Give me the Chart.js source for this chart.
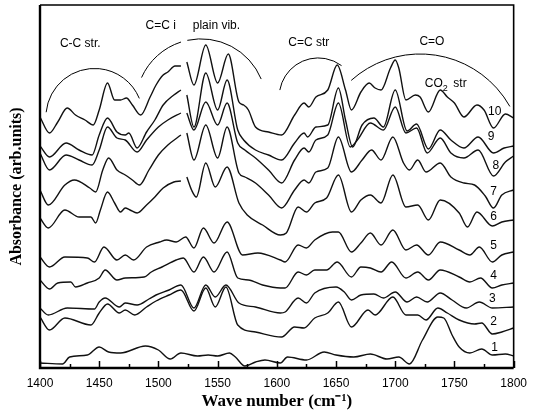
<!DOCTYPE html>
<html>
<head>
<meta charset="utf-8">
<script src="https://cdn.jsdelivr.net/npm/chart.js@4/dist/chart.umd.min.js"></script>
<style>
  html, body { margin: 0; padding: 0; background: #fff; }
</style>
</head>
<body>
<canvas id="chart-ir" width="535" height="416"></canvas>
<script>
// IR spectra 1..10, [wavenumber cm-1, absorbance arb. units] (offset stack)
// null marks the missing strip near 1521 cm-1 in the upper traces
const spectrum1 = [
  [1400, 5], [1419, 4], [1425, 11], [1440, 13], [1450, 21], [1458, 16], [1468, 15], [1489, 22],
  [1500, 18], [1510, 9], [1519, 15], [1533, 12], [1542, 13], [1550, 12], [1560, 15], [1565, 11],
  [1573, 2], [1582, 6], [1590, 8], [1603, 5], [1609, 11], [1625, 8], [1640, 16], [1650, 13],
  [1665, 11], [1679, 14], [1693, 9], [1703, 11], [1712, 4], [1723, 28], [1736, 51], [1741, 50],
  [1748, 33], [1754, 21], [1763, 15], [1773, 19], [1782, 13], [1793, 14], [1800, 12],
];
const spectrum2 = [
  [1400, 51], [1408, 38], [1421, 50], [1443, 43], [1450, 55], [1457, 64], [1467, 55], [1472, 58],
  [1480, 53], [1490, 61], [1498, 67], [1509, 73], [1519, 78], [1530, 57], [1540, 80], [1548, 61],
  [1557, 81], [1567, 43], [1582, 36], [1604, 31], [1615, 41], [1623, 40], [1632, 50], [1643, 55],
  [1652, 66], [1663, 41], [1677, 58], [1683, 53], [1698, 71], [1709, 53], [1719, 53], [1726, 48],
  [1736, 60], [1744, 55], [1754, 48], [1767, 44], [1773, 45], [1782, 34], [1790, 36], [1800, 40],
];
const spectrum3 = [
  [1400, 60], [1407, 53], [1423, 60], [1446, 59], [1450, 66], [1455, 70], [1467, 61], [1472, 65],
  [1482, 63], [1492, 69], [1498, 73], [1509, 78], [1519, 83], [1530, 60], [1540, 83], [1548, 71],
  [1557, 83], [1568, 65], [1582, 61], [1603, 55], [1607, 56], [1618, 70], [1625, 65], [1632, 75],
  [1650, 81], [1657, 76], [1663, 68], [1671, 73], [1682, 74], [1690, 70], [1700, 76], [1710, 66],
  [1718, 71], [1727, 66], [1738, 75], [1748, 68], [1760, 60], [1771, 66], [1782, 60], [1800, 61],
];
const spectrum4 = [
  [1400, 88], [1408, 79], [1415, 85], [1426, 86], [1430, 81], [1440, 85], [1450, 90], [1455, 98],
  [1465, 88], [1472, 90], [1488, 91], [1494, 96], [1503, 101], [1515, 108], [1521, 110], [1530, 96],
  [1538, 111], [1547, 96], [1558, 116], [1567, 90], [1576, 88], [1588, 83], [1603, 80], [1607, 80],
  [1618, 96], [1625, 93], [1632, 98], [1642, 98], [1651, 106], [1663, 91], [1671, 101], [1679, 100],
  [1688, 96], [1697, 106], [1709, 90], [1719, 96], [1728, 88], [1738, 98], [1754, 91], [1763, 86],
  [1772, 90], [1782, 80], [1790, 83], [1800, 85],
];
const spectrum5 = [
  [1400, 111], [1408, 101], [1421, 111], [1440, 110], [1446, 106], [1454, 121], [1465, 108],
  [1472, 113], [1479, 108], [1490, 121], [1501, 126], [1507, 128], [1515, 126], [1523, 131],
  [1530, 120], [1538, 140], [1547, 125], [1558, 146], [1571, 113], [1584, 115], [1603, 108],
  [1607, 106], [1618, 123], [1625, 120], [1632, 128], [1647, 136], [1652, 136], [1663, 116],
  [1671, 125], [1679, 135], [1688, 123], [1698, 138], [1709, 118], [1718, 123], [1728, 113],
  [1738, 126], [1754, 118], [1763, 113], [1771, 121], [1782, 106], [1790, 113], [1800, 116],
];
const spectrum6 = [
  [1400, 150], [1407, 140], [1421, 158], [1433, 151], [1443, 151], [1447, 145], [1451, 158],
  [1457, 176], [1463, 165], [1468, 156], [1472, 160], [1476, 158], [1482, 155], [1490, 163],
  [1497, 171], [1504, 180], [1513, 186], [1519, 187], [1521, null], [1524, 191], [1528, 178],
  [1532, 171], [1540, 205], [1548, 181], [1558, 201], [1568, 165], [1575, 153], [1588, 143],
  [1603, 133], [1608, 135], [1618, 161], [1625, 156], [1632, 165], [1642, 170], [1652, 193],
  [1663, 156], [1671, 168], [1679, 173], [1688, 165], [1698, 193], [1709, 161], [1719, 163],
  [1728, 148], [1738, 168], [1754, 155], [1761, 141], [1769, 156], [1782, 142], [1790, 146],
  [1800, 148],
];
const spectrum7 = [
  [1400, 178], [1407, 163], [1421, 183], [1429, 188], [1442, 180], [1447, 176], [1453, 198],
  [1458, 210], [1465, 198], [1472, 193], [1478, 188], [1484, 183], [1492, 198], [1500, 213],
  [1508, 223], [1519, 233], [1521, null], [1524, 235], [1530, 208], [1540, 243], [1550, 210],
  [1558, 241], [1568, 195], [1573, 191], [1582, 185], [1593, 173], [1604, 160], [1615, 178],
  [1623, 188], [1627, 185], [1633, 196], [1643, 200], [1652, 231], [1663, 196], [1672, 208],
  [1680, 218], [1688, 208], [1698, 231], [1707, 205], [1712, 198], [1719, 208], [1726, 196],
  [1738, 205], [1747, 191], [1758, 185], [1767, 183], [1776, 172], [1783, 160], [1790, 173],
  [1800, 178],
];
const spectrum8 = [
  [1400, 215], [1408, 198], [1422, 213], [1433, 208], [1444, 203], [1450, 218], [1457, 241],
  [1465, 230], [1472, 228], [1482, 216], [1490, 228], [1500, 241], [1508, 248], [1519, 255],
  [1521, null], [1524, 255], [1530, 238], [1540, 266], [1550, 243], [1558, 265], [1567, 225],
  [1573, 218], [1582, 210], [1593, 198], [1604, 185], [1615, 208], [1623, 220], [1627, 216],
  [1633, 228], [1643, 233], [1652, 265], [1662, 221], [1668, 228], [1679, 245], [1690, 238],
  [1700, 261], [1709, 235], [1718, 240], [1727, 215], [1738, 230], [1747, 215], [1758, 210],
  [1770, 218], [1783, 192], [1793, 206], [1800, 212],
];
const spectrum9 = [
  [1400, 222], [1408, 211], [1422, 225], [1433, 218], [1444, 213], [1450, 233], [1457, 250],
  [1465, 236], [1472, 233], [1475, 235], [1482, 220], [1490, 236], [1497, 248], [1504, 263],
  [1513, 273], [1519, 278], [1521, null], [1524, 273], [1530, 241], [1540, 295], [1550, 258],
  [1558, 288], [1567, 238], [1572, 228], [1582, 218], [1593, 213], [1604, 208], [1615, 225],
  [1623, 235], [1626, 231], [1633, 241], [1643, 243], [1652, 280], [1658, 248], [1664, 221],
  [1672, 243], [1682, 250], [1690, 241], [1700, 278], [1710, 237], [1718, 244], [1728, 219],
  [1738, 238], [1747, 228], [1758, 220], [1770, 231], [1783, 215], [1792, 220], [1800, 222],
];
const spectrum10 = [
  [1400, 251], [1408, 235], [1415, 246], [1423, 260], [1430, 253], [1438, 248], [1445, 243],
  [1450, 258], [1457, 285], [1463, 268], [1468, 268], [1473, 270], [1478, 263], [1485, 253],
  [1493, 271], [1498, 283], [1504, 293], [1508, 296], [1514, 302], [1519, 302], [1521, null],
  [1524, 306], [1530, 283], [1540, 323], [1550, 285], [1559, 314], [1568, 266], [1572, 263],
  [1576, 258], [1582, 241], [1593, 236], [1604, 233], [1615, 253], [1623, 265], [1627, 261],
  [1633, 271], [1643, 278], [1651, 303], [1658, 278], [1663, 258], [1671, 276], [1678, 285],
  [1683, 280], [1688, 278], [1696, 300], [1700, 308], [1703, 300], [1709, 268], [1717, 273],
  [1721, 271], [1728, 256], [1738, 278], [1744, 271], [1750, 265], [1758, 251], [1769, 263],
  [1775, 258], [1783, 240], [1793, 254], [1800, 250],
];

const spectra = [spectrum1, spectrum2, spectrum3, spectrum4, spectrum5,
  spectrum6, spectrum7, spectrum8, spectrum9, spectrum10];
const spectrumNames = ['1', '2', '3', '4', '5', '6', '7', '8', '9', '10'];
// where each trace number sits: [wavenumber, absorbance]
const nameSpots = [
  [1784, 20], [1783, 46], [1782, 69], [1783, 92], [1783, 122],
  [1783, 151], [1783, 176], [1785, 202], [1781, 231], [1784, 256],
];

const waveTicks = [1400, 1450, 1500, 1550, 1600, 1650, 1700, 1750, 1800];
const minorTicks = [1425, 1475, 1525, 1575, 1625, 1675, 1725, 1775];

// band brackets: centre [wavenumber, absorbance], radius in cm-1, angle span (rad)
const bandArcs = [
  { cx: 1446, cy: 251, r: 41, from: 3.24, to: 5.89 },
  { cx: 1536, cy: 264, r: 55, from: 3.56, to: 4.40 },
  { cx: 1536, cy: 264, r: 55, from: 4.50, to: 5.89 },
  { cx: 1635, cy: 271, r: 33, from: 3.32, to: 5.35 },
  { cx: 1721, cy: 211, r: 87, from: 3.98, to: 5.77 },
];
const bandLabels = [
  { text: 'C-C str.', x: 1434, y: 324 },
  { text: 'C=C i', x: 1502, y: 342 },
  { text: 'plain vib.', x: 1549, y: 342 },
  { text: 'C=C str', x: 1627, y: 325 },
  { text: 'C=O', x: 1731, y: 326 },
];
const co2Label = { x: 1725, y: 284 };

const SANS = '"Liberation Sans", Arial, Helvetica, sans-serif';
const SERIF = '"Liberation Serif", "Times New Roman", serif';

function toPoints(pairs) {
  return pairs.map(([x, y]) => ({ x, y }));
}

const spectraDecor = {
  id: 'spectraDecor',
  afterDatasetsDraw(chart) {
    const { ctx, chartArea: area, scales: { x, y } } = chart;
    const pxPerWn = x.getPixelForValue(1500) - x.getPixelForValue(1400);
    ctx.save();

    // frame, thicker on the two axes
    ctx.strokeStyle = '#000';
    ctx.lineWidth = 1.6;
    ctx.beginPath();
    ctx.moveTo(area.left, area.top);
    ctx.lineTo(area.right, area.top);
    ctx.lineTo(area.right, area.bottom);
    ctx.stroke();
    ctx.lineWidth = 2.4;
    ctx.beginPath();
    ctx.moveTo(area.left, area.top);
    ctx.lineTo(area.left, area.bottom);
    ctx.lineTo(area.right, area.bottom);
    ctx.stroke();

    // inward ticks on the wavenumber axis
    ctx.lineWidth = 1.5;
    const tick = (wn, len) => {
      const px = Math.round(x.getPixelForValue(wn)) + 0.5;
      ctx.beginPath();
      ctx.moveTo(px, area.bottom);
      ctx.lineTo(px, area.bottom - len);
      ctx.stroke();
    };
    waveTicks.forEach((wn) => tick(wn, 7));
    minorTicks.forEach((wn) => tick(wn, 4));

    // band brackets
    ctx.lineWidth = 1;
    bandArcs.forEach((a) => {
      ctx.beginPath();
      ctx.arc(x.getPixelForValue(a.cx), y.getPixelForValue(a.cy), a.r * pxPerWn / 100,
        a.from, a.to, false);
      ctx.stroke();
    });

    ctx.fillStyle = '#000';
    ctx.textBaseline = 'middle';
    ctx.textAlign = 'center';
    ctx.font = '12px ' + SANS;
    bandLabels.forEach((l) => {
      ctx.fillText(l.text, x.getPixelForValue(l.x), y.getPixelForValue(l.y));
    });

    // CO2 str with a lowered 2
    ctx.textAlign = 'left';
    let cx = x.getPixelForValue(co2Label.x);
    const cy = y.getPixelForValue(co2Label.y);
    ctx.fillText('CO', cx, cy);
    cx += ctx.measureText('CO').width;
    ctx.font = '9px ' + SANS;
    ctx.fillText('2', cx, cy + 5);
    cx += ctx.measureText('2 ').width + 3;
    ctx.font = '12px ' + SANS;
    ctx.fillText('str', cx, cy);

    ctx.textAlign = 'center';
    spectrumNames.forEach((name, i) => {
      const [wn, val] = nameSpots[i];
      ctx.fillText(name, x.getPixelForValue(wn), y.getPixelForValue(val));
    });

    ctx.restore();
  },
};

const ctx = document.getElementById('chart-ir').getContext('2d');
new Chart(ctx, {
  type: 'line',
  data: {
    datasets: spectra.map((pairs, i) => ({
      label: spectrumNames[i],
      data: toPoints(pairs),
      borderColor: '#111',
      borderWidth: 1.4,
      pointRadius: 0,
      cubicInterpolationMode: 'monotone',
      spanGaps: false,
    })),
  },
  options: {
    responsive: false,
    animation: false,
    layout: { padding: { top: 5, right: 14, left: 0, bottom: 0 } },
    plugins: {
      legend: { display: false },
      tooltip: { enabled: false },
    },
    scales: {
      x: {
        type: 'linear',
        min: 1400,
        max: 1800,
        afterFit(scale) { scale.height = 48; },
        grid: { display: false, drawTicks: false },
        border: { display: false },
        ticks: {
          stepSize: 50,
          padding: 8,
          maxRotation: 0,
          color: '#000',
          font: { family: SANS, size: 12 },
          callback: (value) => (waveTicks.includes(value) ? String(value) : ''),
        },
        title: {
          display: true,
          text: 'Wave number (cm\u207B\u00B9)',
          color: '#000',
          font: { family: SERIF, size: 17, weight: 'bold' },
          padding: { top: 0, bottom: 4 },
        },
      },
      y: {
        min: 0,
        max: 363,
        afterFit(scale) { scale.width = 40; },
        grid: { display: false, drawTicks: false },
        border: { display: false },
        ticks: { display: false },
        title: {
          display: true,
          text: 'Absorbance (arb.units)',
          color: '#000',
          font: { family: SERIF, size: 16, weight: 'bold' },
          padding: { top: 7, bottom: 0 },
        },
      },
    },
  },
  plugins: [spectraDecor],
});
</script>
</body>
</html>
